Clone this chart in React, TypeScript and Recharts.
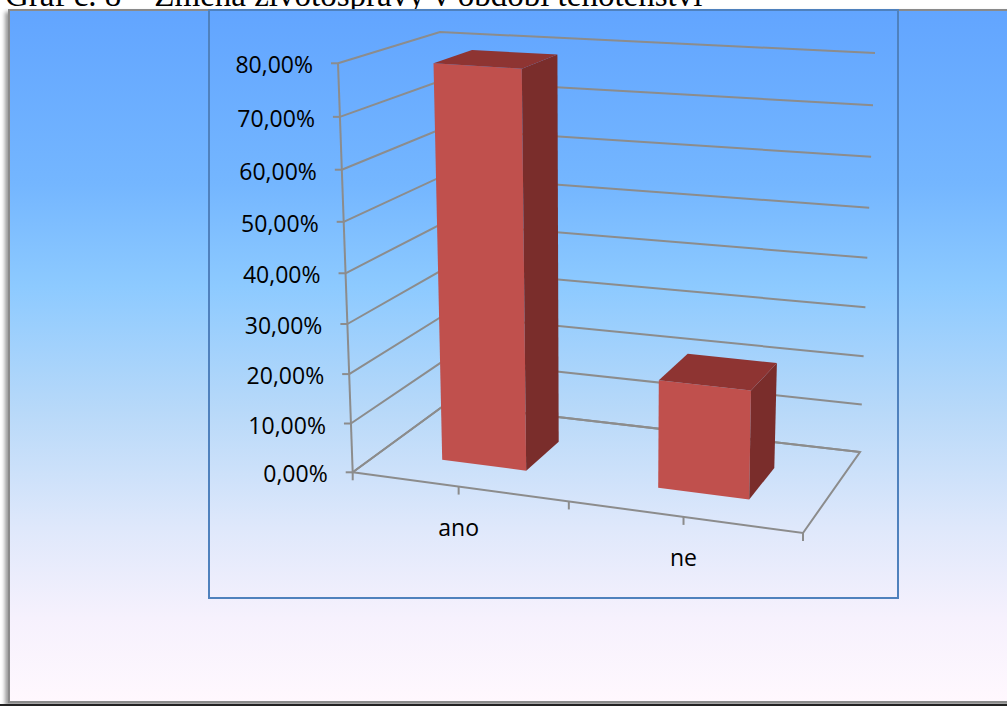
import { BarChart, Bar, XAxis, YAxis, CartesianGrid } from 'recharts';

const title = 'Graf č. 8 – Změna životosprávy v období těhotenství';
const categories = ['ano', 'ne'];
const shares = [79, 21.5];
const valueTicks = [0, 10, 20, 30, 40, 50, 60, 70, 80];

const data = categories.map((name, i) => ({ name, value: shares[i] }));

const CW = 1007;
const CH = 706;
const MARGIN = { top: 60, right: 200, bottom: 200, left: 200 };
const Y_W = 100;
const X_H = 30;
const PL = MARGIN.left + Y_W;
const PT = MARGIN.top;
const PW = CW - PL - MARGIN.right;
const PH = CH - PT - MARGIN.bottom - X_H;

const GRID = '#8c8c8c';
const FONT = '"Open Sans", "Liberation Sans", sans-serif';

// screen corners of the 3d box (F = front, B = back; first digit = right, second = top)
const F00 = [352.7, 472.3];
const F10 = [803, 533];
const F01 = [338, 63.3];
const F11 = [812, 95];
const B00 = [446, 404];
const B10 = [860, 452];
const B01 = [440, 32];
const B11 = [875, 53];

const persp = (t: number, k: number) => (k * t) / (1 + (k - 1) * t);
const mix = (a: number[], b: number[], t: number) => [a[0] + (b[0] - a[0]) * t, a[1] + (b[1] - a[1]) * t];

function project(u: number, v: number, w: number) {
  const a = persp(u, 0.923);
  const b = persp(v, 0.948);
  const front = mix(mix(F00, F10, a), mix(F01, F11, a), b);
  const back = mix(mix(B00, B10, a), mix(B01, B11, a), b);
  return mix(front, back, w);
}

const toU = (x: number) => (x - PL) / PW;
const toV = (y: number) => (PT + PH - y) / PH;
const pts = (list: number[][]) => list.map((p) => `${p[0].toFixed(1)},${p[1].toFixed(1)}`).join(' ');
const pct = (v: number) => `${v.toFixed(2).replace('.', ',')}%`;

function Frame() {
  const n = categories.length;
  const marks = [];
  for (let i = 0; i <= n * 2; i++) marks.push(i / (n * 2));
  return (
    <g>
      <line x1={F01[0]} y1={F01[1]} x2={F00[0]} y2={F00[1]} stroke={GRID} strokeWidth={2} />
      <polygon points={pts([project(0, 0, 0), project(1, 0, 0), project(1, 0, 1), project(0, 0, 1)])} fill="none" stroke={GRID} strokeWidth={2} />
      {marks.map((u) => {
        const p = project(u, 0, 0);
        return <line key={u} x1={p[0]} y1={p[1]} x2={p[0]} y2={p[1] + 8} stroke={GRID} strokeWidth={2} />;
      })}
    </g>
  );
}

const gridLine = (props: any) => {
  const v = toV(props.y1);
  return (
    <g key={`grid-${props.index}`}>
      <polyline points={pts([project(0, v, 0), project(0, v, 1), project(1, v, 1)])} fill="none" stroke={GRID} strokeWidth={2} />
      {props.index === 0 && <Frame />}
    </g>
  );
};

function YTick(props: any) {
  const { y, payload } = props;
  const p = project(0, toV(y), 0);
  return (
    <g>
      <line x1={p[0] - 7} y1={p[1]} x2={p[0]} y2={p[1]} stroke={GRID} strokeWidth={2} />
      <text x={p[0] - 25} y={p[1] + 1} textAnchor="end" dominantBaseline="central" fontSize={23} fontFamily={FONT} fill="#000">
        {pct(payload.value)}
      </text>
    </g>
  );
}

function XTick(props: any) {
  const { x, payload } = props;
  const p = project(toU(x), 0, 0);
  return (
    <text x={p[0]} y={p[1] + 40} textAnchor="middle" dominantBaseline="central" fontSize={23} fontFamily={FONT} fill="#000">
      {payload.value}
    </text>
  );
}

function Bar3D(props: any) {
  const { x, y, width } = props;
  const u0 = toU(x);
  const u1 = toU(x + width);
  const v = toV(y);
  const w0 = 0.3;
  const w1 = 0.7;
  return (
    <g>
      <polygon points={pts([project(u0, 0, w0), project(u1, 0, w0), project(u1, v, w0), project(u0, v, w0)])} fill="#c0504d" />
      <polygon points={pts([project(u1, 0, w0), project(u1, 0, w1), project(u1, v, w1), project(u1, v, w0)])} fill="#7a2d2b" />
      <polygon points={pts([project(u0, v, w0), project(u1, v, w0), project(u1, v, w1), project(u0, v, w1)])} fill="#8e3432" />
    </g>
  );
}

export default function App() {
  return (
    <div style={{ position: 'absolute', left: 0, top: 0, width: CW, height: CH, overflow: 'hidden', background: '#fff' }}>
      <div
        style={{
          position: 'absolute',
          left: 5,
          top: -20,
          fontFamily: '"Liberation Serif", "Times New Roman", serif',
          fontSize: 33,
          lineHeight: '30px',
          whiteSpace: 'nowrap',
          color: '#000',
        }}
      >
        {title}
      </div>
      <div
        style={{
          position: 'absolute',
          left: 8,
          top: 9,
          width: 1100,
          height: 690,
          border: '2px solid #8a8a8a',
          boxShadow: '-3px 3px 4px rgba(0,0,0,0.4)',
          background:
            'linear-gradient(to bottom, #62a5ff 0%, #74b6ff 25%, #8dcaff 40%, #b8d9f9 58%, #dfe8fb 75%, #f6f1fd 88%, #fff8fe 100%)',
        }}
      />
      <div style={{ position: 'absolute', left: 0, top: 704, width: CW, height: 2, background: '#222' }} />
      <div
        style={{
          position: 'absolute',
          left: 208,
          top: 9,
          width: 687,
          height: 586,
          border: '2px solid #4f81bd',
        }}
      />
      <div style={{ position: 'absolute', left: 0, top: 0 }}>
        <BarChart width={CW} height={CH} data={data} margin={MARGIN} barCategoryGap="30%">
          <CartesianGrid horizontal={gridLine} vertical={false} />
          <XAxis dataKey="name" height={X_H} axisLine={false} tickLine={false} tick={<XTick />} interval={0} />
          <YAxis type="number" domain={[0, 80]} ticks={valueTicks} width={Y_W} axisLine={false} tickLine={false} tick={<YTick />} interval={0} />
          <Bar dataKey="value" shape={<Bar3D />} isAnimationActive={false} />
        </BarChart>
      </div>
    </div>
  );
}
